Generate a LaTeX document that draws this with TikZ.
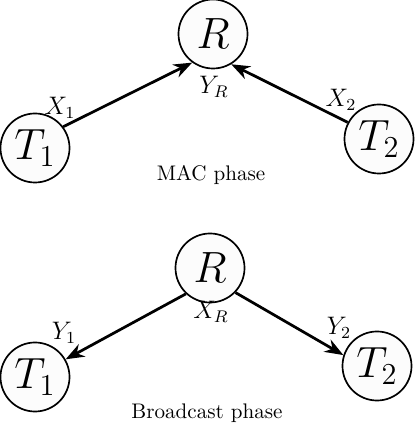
\documentclass[tikz,border=0pt]{standalone}
\usepackage{tikz}
\usetikzlibrary{arrows.meta}

\tikzset{
  station/.style={circle,draw,line width=0.8pt,fill=black!1,minimum size=1.15cm,inner sep=0pt,font=\huge},
  link/.style={->,line width=1.3pt},
  lab/.style={font=\large},
}

\begin{document}
\begin{tikzpicture}[x=0.0166667cm,y=0.0166667cm,>=Stealth]
\useasboundingbox (0,0) rectangle (415,427);
% MAC phase
\node[station] (Rm) at (213,393) {$R$};
\node[station] (T1m) at (35,279) {$T_1$};
\node[station] (T2m) at (379,288) {$T_2$};
\node[lab] (labX1) at (60,319) {$X_1$};
\node[lab] (labYR) at (214,340) {$Y_R$};
\node[lab] (labX2) at (341,327) {$X_2$};
\node (macph) at (211,252) {MAC phase};
\draw[link] (T1m.37) -- (Rm.234);
\draw[link] (T2m.152) -- (Rm.301);
% Broadcast phase
\node[station] (Rb) at (210,159) {$R$};
\node[station] (T1b) at (35,50) {$T_1$};
\node[station] (T2b) at (377,61) {$T_2$};
\node[lab] (labXR) at (211,115) {$X_R$};
\node[lab] (labY1) at (64,94) {$Y_1$};
\node[lab] (labY2) at (339,99) {$Y_2$};
\node (bcph) at (207,14) {Broadcast phase};
\draw[link] (Rb.227) -- (T1b.30);
\draw[link] (Rb.316) -- (T2b.162);
\end{tikzpicture}
\end{document}
